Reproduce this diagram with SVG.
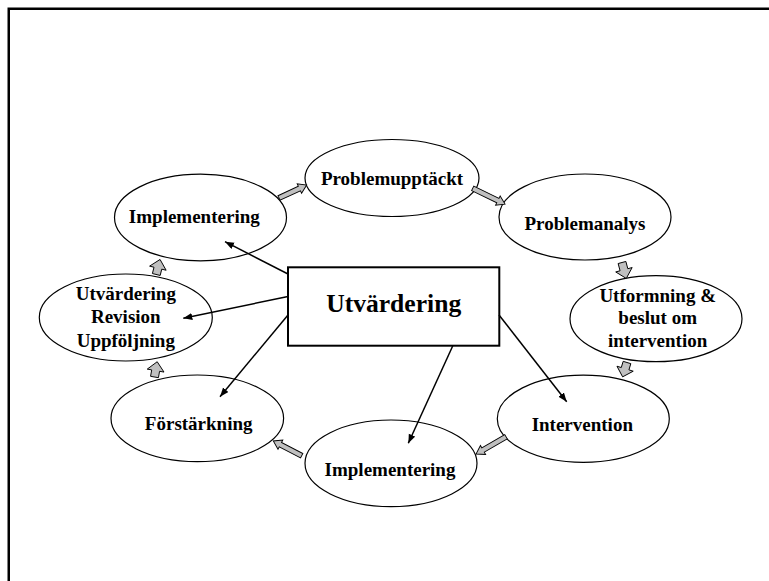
<svg xmlns="http://www.w3.org/2000/svg" width="769" height="581" viewBox="0 0 769 581">
<style>
.bg{fill:#ffffff}
.frame{fill:none;stroke:#000;stroke-width:2.5}
.node{fill:#ffffff;stroke:#000;stroke-width:1.2}
.box{fill:#ffffff;stroke:#000;stroke-width:2}
.lbl{font-family:"Liberation Serif","Times New Roman",serif;font-weight:bold;font-size:19px;fill:#000;text-anchor:middle}
.big{font-size:25.6px}
.flow{fill:#c0c0c0;stroke:#000;stroke-width:0.9;stroke-linejoin:miter}
.link{fill:none;stroke:#000;stroke-width:1.5;marker-end:url(#ah)}
</style>
<defs>
<marker id="ah" markerUnits="userSpaceOnUse" markerWidth="11" markerHeight="8" refX="9" refY="3.5" orient="auto">
<path d="M0,0 L9,3.5 L0,7 Z" fill="#000"/>
</marker>
</defs>
<rect class="bg" x="0" y="0" width="769" height="581"/>
<path class="frame" d="M8.75,590 V8.75 H780"/>

<g id="problemupptackt">
<ellipse class="node" cx="392" cy="178" rx="87" ry="38.5"/>
<text class="lbl" x="392" y="185">Problemupptäckt</text>
</g>
<g id="problemanalys">
<ellipse class="node" cx="585" cy="217" rx="86" ry="43"/>
<text class="lbl" x="585" y="229.5">Problemanalys</text>
</g>
<g id="utformning">
<ellipse class="node" cx="656" cy="318.7" rx="86" ry="43"/>
<text class="lbl" x="657.7" y="301.7">Utformning &amp;</text>
<text class="lbl" x="657.7" y="324">beslut om</text>
<text class="lbl" x="657.7" y="347">intervention</text>
</g>
<g id="intervention">
<ellipse class="node" cx="583.3" cy="418.7" rx="86" ry="43.6"/>
<text class="lbl" x="582.3" y="430.7">Intervention</text>
</g>
<g id="implementering-nedre">
<ellipse class="node" cx="391" cy="463.3" rx="86" ry="43.3"/>
<text class="lbl" x="390" y="476">Implementering</text>
</g>
<g id="forstarkning">
<ellipse class="node" cx="197.3" cy="418.3" rx="86.3" ry="43.3"/>
<text class="lbl" x="198.7" y="430">Förstärkning</text>
</g>
<g id="utvardering-revision">
<ellipse class="node" cx="125.8" cy="317.5" rx="86.5" ry="43.5"/>
<text class="lbl" x="125.8" y="300">Utvärdering</text>
<text class="lbl" x="125.8" y="323.3">Revision</text>
<text class="lbl" x="125.8" y="346.7">Uppföljning</text>
</g>
<g id="implementering-ovre">
<ellipse class="node" cx="200.5" cy="217.5" rx="86" ry="43.3"/>
<text class="lbl" x="194.3" y="222.7">Implementering</text>
</g>
<g id="utvardering">
<rect class="box" x="288" y="267.3" width="211.3" height="78.4"/>
<text class="lbl big" x="393.7" y="312.3">Utvärdering</text>
</g>

<g id="connectors">
<path class="flow" transform="translate(279,198) rotate(-25)" d="M0,-2.5 H22.5 V-5.2 L30.5,0 L22.5,5.2 V2.5 H0 Z"/>
<path class="flow" transform="translate(472.7,188.3) rotate(26)" d="M0,-2.5 H28 V-5.2 L36,0 L28,5.2 V2.5 H0 Z"/>
<path class="flow" transform="translate(622,262.5) rotate(75)" d="M0,-4 H7.5 V-8.5 L16.5,0 L7.5,8.5 V4 H0 Z"/>
<path class="flow" transform="translate(627,362.5) rotate(107)" d="M0,-4 H6.5 V-8.5 L15,0 L6.5,8.5 V4 H0 Z"/>
<path class="flow" transform="translate(506,436.7) rotate(150)" d="M0,-2.5 H26.5 V-5.2 L34.6,0 L26.5,5.2 V2.5 H0 Z"/>
<path class="flow" transform="translate(301.7,455.7) rotate(-152.6)" d="M0,-2.5 H24 V-5.2 L32,0 L24,5.2 V2.5 H0 Z"/>
<path class="flow" transform="translate(154.5,377) rotate(-80)" d="M0,-4 H6.5 V-8.5 L15.5,0 L6.5,8.5 V4 H0 Z"/>
<path class="flow" transform="translate(156.3,274.5) rotate(-76)" d="M0,-4 H6.5 V-8.5 L15.5,0 L6.5,8.5 V4 H0 Z"/>
<line class="link" x1="288" y1="274" x2="225" y2="241.7"/>
<line class="link" x1="288" y1="296.5" x2="183.3" y2="318.3"/>
<line class="link" x1="288" y1="315" x2="220" y2="396.7"/>
<line class="link" x1="452.7" y1="346" x2="408.3" y2="443.3"/>
<line class="link" x1="499" y1="315" x2="566.7" y2="401.7"/>
</g>
</svg>
